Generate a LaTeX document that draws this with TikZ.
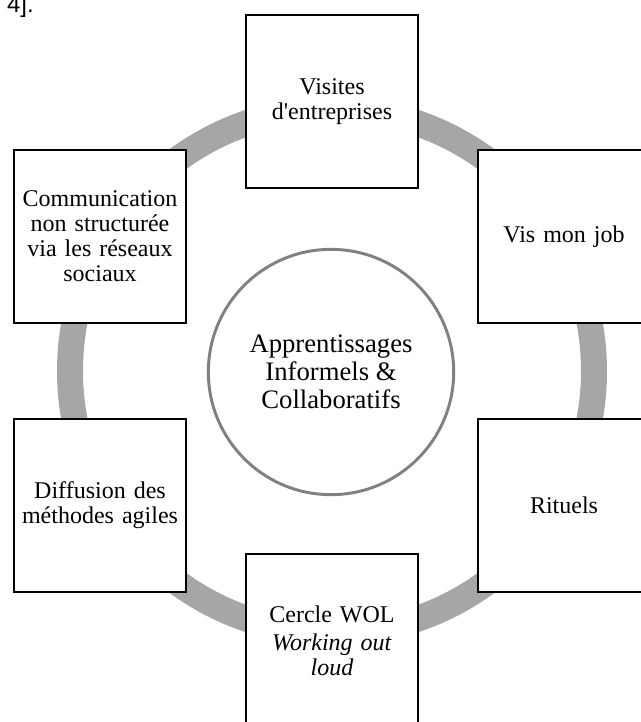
\documentclass[tikz,border=0pt]{standalone}
\usepackage{fontspec}
\setmainfont{Liberation Serif}[Ligatures=TeXOff]
\newfontfamily\arialfont{Liberation Sans}
\definecolor{ringgray}{HTML}{A6A6A6}
\definecolor{hubgray}{HTML}{808080}
\begin{document}
\begin{tikzpicture}[x=0.75pt,y=-0.75pt,
  box/.style={draw=black,line width=1.3pt,fill=white,minimum width=129pt,minimum height=129.5pt,
    inner sep=0pt,align=center,text width=124pt,font=\fontsize{18}{18.8}\selectfont},
  hub/.style={circle,draw=hubgray,line width=2.2pt,fill=white,minimum size=184pt,inner sep=0pt,
    align=center,font=\fontsize{20}{21}\selectfont},
  ring/.style={draw=ringgray,line width=19.5pt},
  reftext/.style={font=\arialfont\fontsize{18}{18}\selectfont,anchor=base east,inner sep=0pt}
]
\useasboundingbox (0,0) rectangle (641,722);
\clip (0,0) rectangle (641,722);
\coordinate (c) at (332,371);
\draw[ring] (c) circle[radius=262];
\node[hub] (hub) at (331,372) {Apprentissages\\Informels \&\\Collaboratifs};
\node[box] (visites) at (332,101.5) {Visites\\d'entreprises};
\node[box] (vis) at (564,236.5) {Vis mon job};
\node[box] (rituels) at (564,505.5) {Rituels};
\node[box] (wol) at (332,640.5) {Cercle WOL\\[2pt]\textit{Working out}\\\textit{loud}};
\node[box] (agiles) at (100,505.5) {Diffusion des\\méthodes agiles};
\node[box] (comm) at (100,236.5) {Communication\\non structurée\\via les réseaux\\sociaux};
\node[reftext] (ref) at (34,12) {4].};
\end{tikzpicture}
\end{document}
